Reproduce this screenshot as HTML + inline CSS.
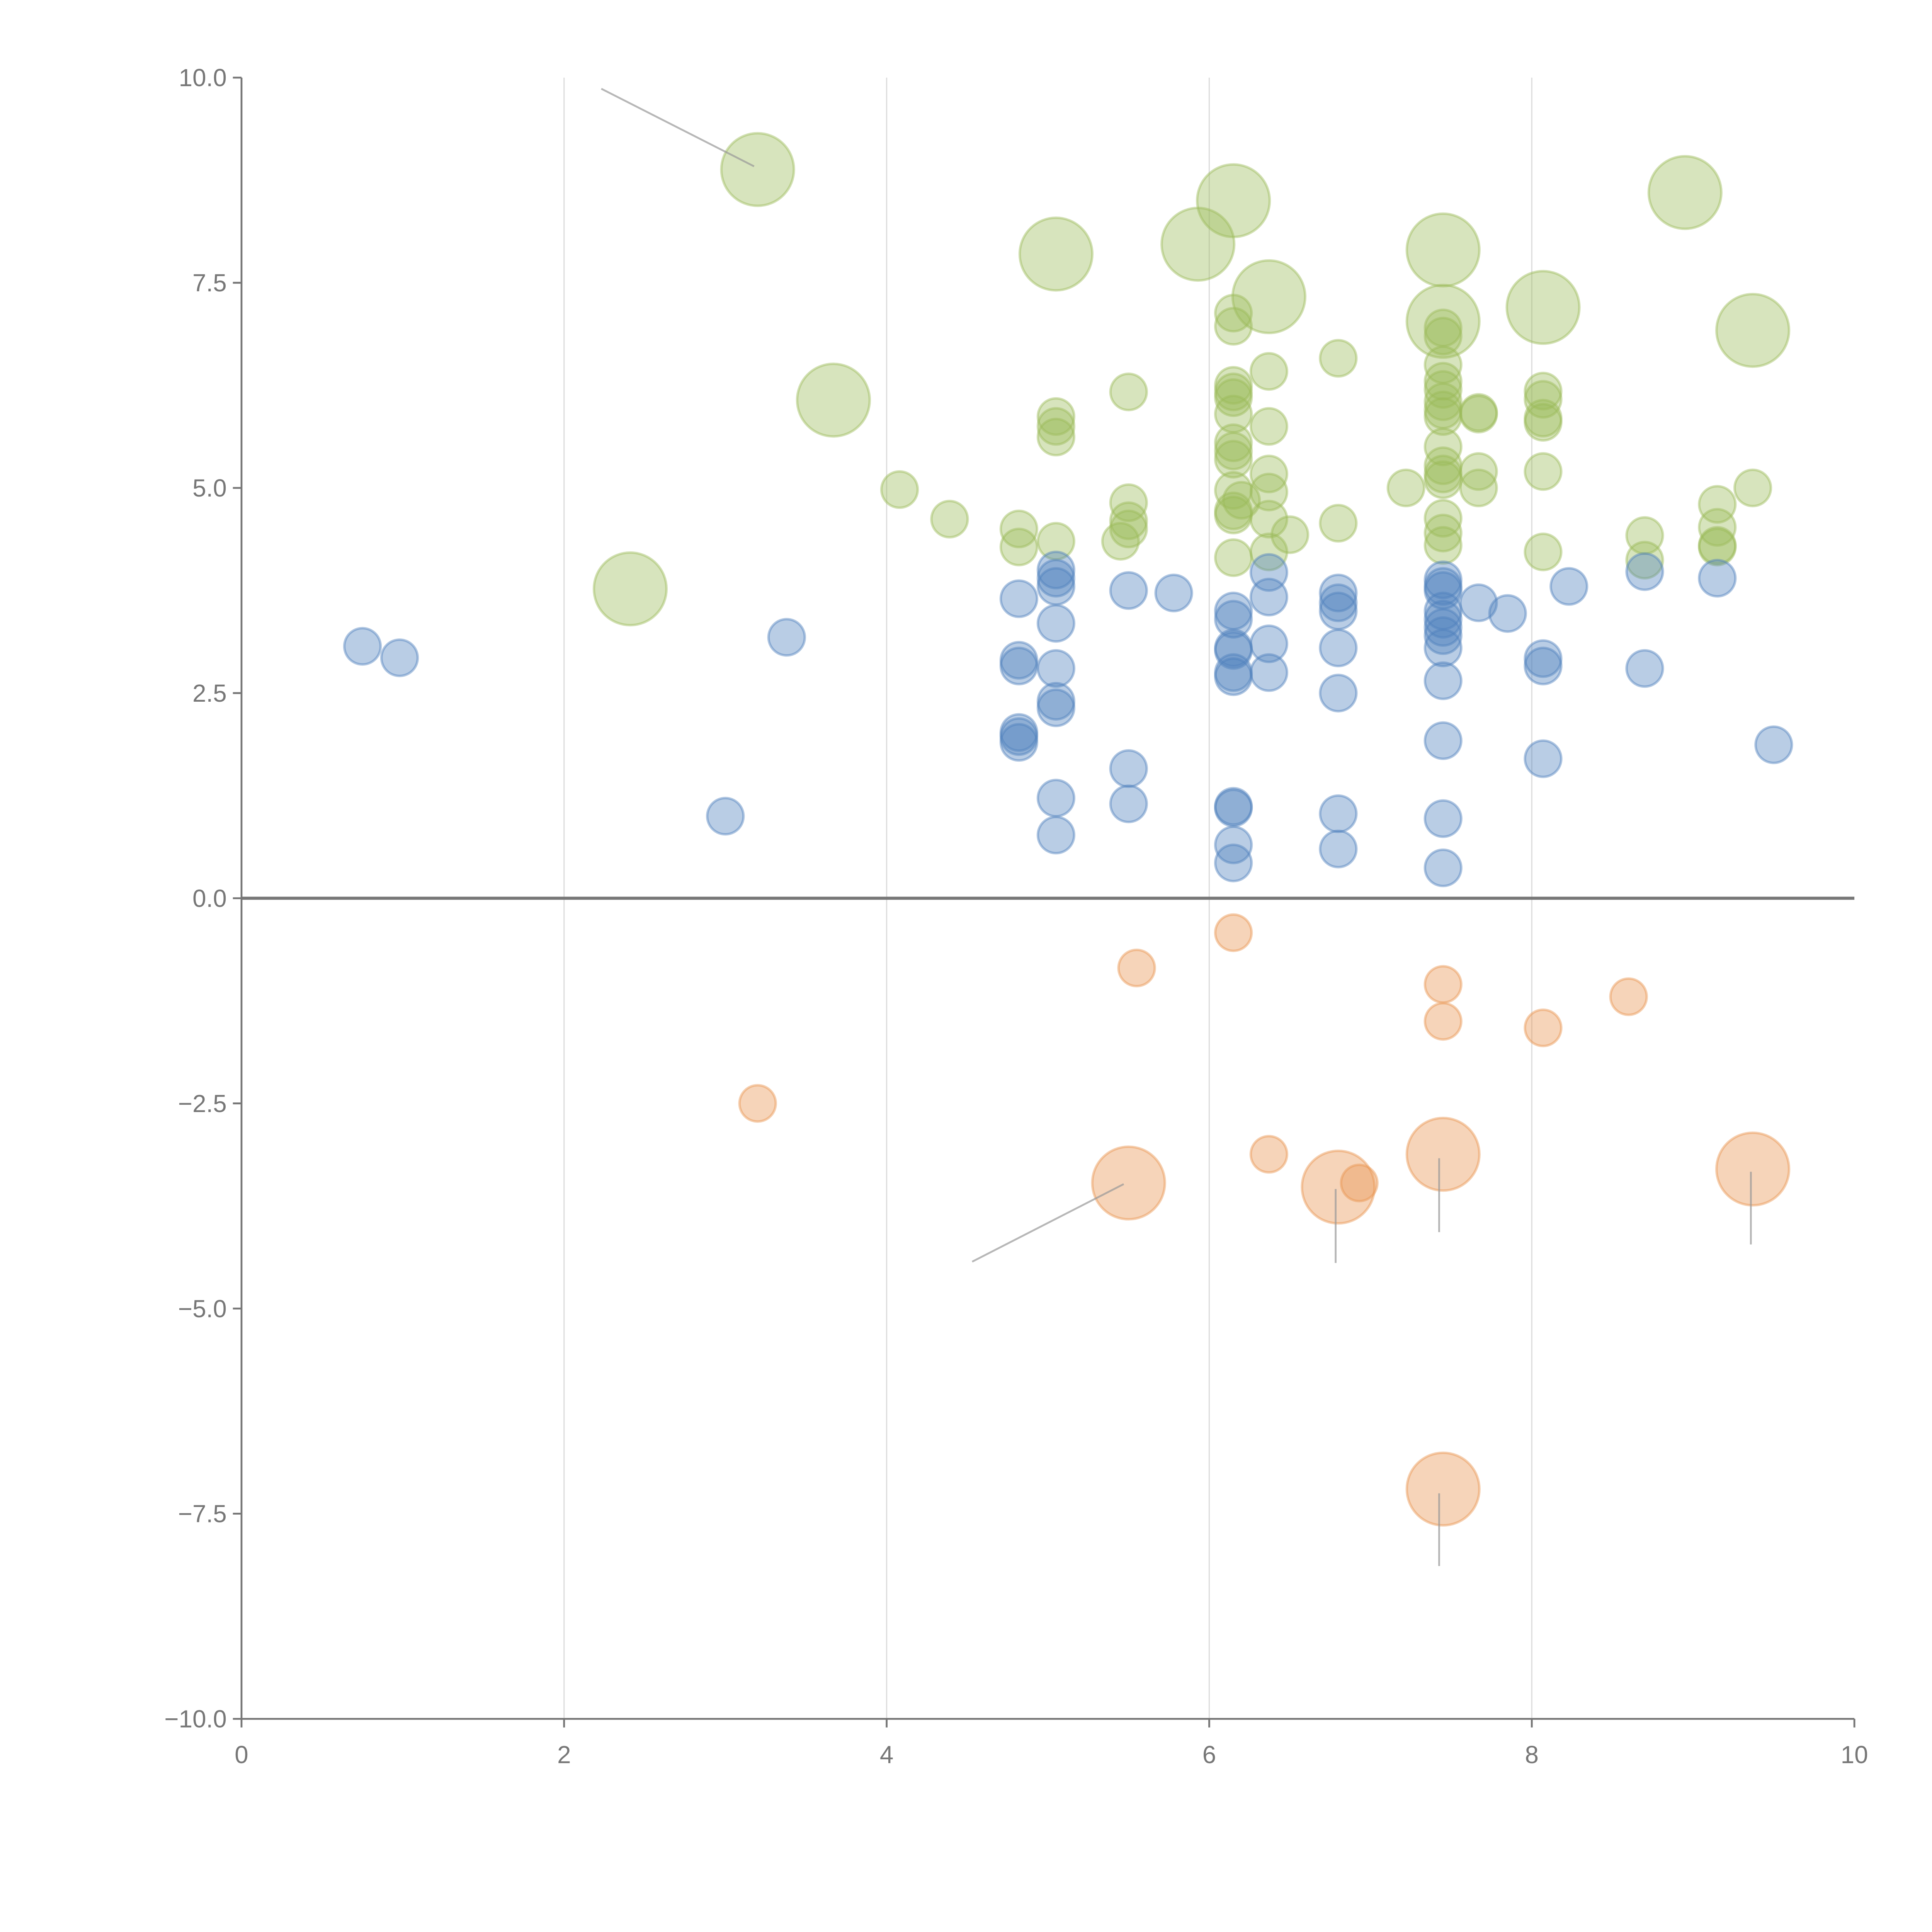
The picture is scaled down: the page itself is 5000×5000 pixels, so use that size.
<!DOCTYPE html>
<html><head><meta charset="utf-8"><style>
html,body{margin:0;padding:0;background:#fff;}
svg{display:block;}
text{font-family:"Liberation Sans",sans-serif;fill:#777;font-size:20px;}
</style></head><body>
<svg id="chart" width="5000" height="5000" viewBox="0 0 1568 1568" xmlns="http://www.w3.org/2000/svg">
<g id="grid"></g>
<g id="marks"></g>
<g id="axes"></g>
</svg>
<script>
const xTicks=[0,2,4,6,8,10];
const yTicks=[10,7.5,5,2.5,0,-2.5,-5,-7.5,-10];
const yTickLabels=["10.0","7.5","5.0","2.5","0.0","\u22122.5","\u22125.0","\u22127.5","\u221210.0"];
const greenX=[3.2,6.15,5.05,5.93,7.45,6.37,7.45,8.07,8.95,9.37,3.67,2.41,
4.08,4.39,4.82,4.82,5.05,5.05,5.05,5.05,5.5,5.5,5.5,5.5,5.45,
6.15,6.15,6.15,6.15,6.15,6.15,6.15,6.15,6.15,6.15,6.15,6.15,6.15,6.2,
6.37,6.37,6.37,6.37,6.37,6.37,6.5,6.8,6.8,7.22,
7.45,7.45,7.45,7.45,7.45,7.45,7.45,7.45,7.45,7.45,7.45,7.45,7.45,7.45,7.45,
7.67,7.67,7.67,7.67,8.07,8.07,8.07,8.07,8.07,8.07,8.7,8.7,9.15,9.15,9.15,9.15,9.37];
const greenY=[8.88,8.5,7.85,7.97,7.9,7.33,7.03,7.2,8.6,6.92,6.07,3.77,
4.98,4.62,4.5,4.28,5.87,5.75,5.62,4.35,6.17,4.82,4.6,4.5,4.35,
7.13,6.97,6.25,6.17,6.1,5.9,5.55,5.45,5.35,4.97,4.72,4.67,4.15,4.85,
6.42,5.75,5.17,4.95,4.62,4.22,4.43,6.58,4.57,5.0,
6.95,6.85,6.5,6.3,6.2,6.05,5.95,5.87,5.5,5.27,5.17,5.1,4.63,4.45,4.3,
5.92,5.9,5.2,5.0,6.18,6.08,5.85,5.8,5.2,4.22,4.42,4.12,4.8,4.52,4.3,4.28,5.0];
const greenSize=[4,4,4,4,4,4,4,4,4,4,4,4];
const blueX=[0.75,0.98,3.0,3.38,4.82,4.82,4.82,4.82,4.82,4.82,
5.05,5.05,5.05,5.05,5.05,5.05,5.05,5.05,5.05,5.5,5.5,5.5,5.78,
6.15,6.15,6.15,6.15,6.15,6.15,6.15,6.15,6.15,6.15,6.37,6.37,6.37,6.37,
6.8,6.8,6.8,6.8,6.8,6.8,6.8,
7.45,7.45,7.45,7.45,7.45,7.45,7.45,7.45,7.45,7.45,7.45,7.45,
7.67,7.85,8.07,8.07,8.07,8.23,8.7,8.7,9.15,9.5];
const blueY=[3.07,2.93,1.0,3.18,3.65,2.9,2.83,2.02,1.97,1.9,
4.0,3.9,3.8,3.35,2.8,2.4,2.32,1.22,0.77,3.75,1.58,1.15,3.72,
3.5,3.4,3.05,3.02,2.75,2.7,1.12,1.1,0.65,0.43,3.97,3.67,3.1,2.75,
3.72,3.6,3.5,3.05,2.5,1.03,0.6,
3.88,3.8,3.75,3.5,3.4,3.3,3.2,3.05,2.65,1.92,0.97,0.37,
3.6,3.47,2.92,2.83,1.7,3.8,3.98,2.8,3.9,1.87];
const orangeX=[5.5,6.8,7.45,9.37,7.45,3.2,5.55,6.15,6.37,6.93,7.45,7.45,8.07,8.6];
const orangeY=[-3.47,-3.52,-3.12,-3.3,-7.2,-2.5,-0.85,-0.42,-3.12,-3.47,-1.05,-1.5,-1.58,-1.2];
const orangeSize=[4,4,4,4,4];

const NS="http://www.w3.org/2000/svg";
const X0=196,X1=1505,Y0=1395,Y1=63;
function sx(v){return X0+(v-0)/(10-0)*(X1-X0);}
function sy(v){return Y0-(v+10)/20*(Y0-Y1);}
function rad(s){return 15.5*Math.sqrt(s||1)*0.95;}
function el(tag,attrs,parent){const e=document.createElementNS(NS,tag);for(const k in attrs)e.setAttribute(k,attrs[k]);parent.appendChild(e);return e;}
const grid=document.getElementById('grid'),marks=document.getElementById('marks'),axes=document.getElementById('axes');

xTicks.forEach(t=>{if(t>0&&t<10){const l=el('line',{x1:sx(t),x2:sx(t),y1:Y1,y2:Y0,stroke:'#ddd','stroke-width':1},grid);

}});

function series(xs,ys,sizes,fill,stroke,name){
  xs.forEach((x,i)=>{
    const c=el('circle',{cx:sx(x),cy:sy(ys[i]),r:rad(sizes[i]),fill:fill,'fill-opacity':0.4,stroke:stroke,'stroke-opacity':0.45,'stroke-width':2},marks);
    
    
  });
}
series(greenX,greenY,greenSize,'#9bbb59','#9bbb59','green-bubble');
series(blueX,blueY,[],'#4f81bd','#4f81bd','blue-bubble');
series(orangeX,orangeY,orangeSize,'#e8944f','#e8944f','orange-bubble');

const leaders=[[488,72,612,135],[789,1024,912,961],[1084,965,1084,1025],[1168,940,1168,1000],[1421,951,1421,1010],[1168,1212,1168,1271]];
leaders.forEach(p=>{const l=el('line',{x1:p[0],y1:p[1],x2:p[2],y2:p[3],stroke:'#999','stroke-opacity':0.7,'stroke-width':1.5},marks);

});

const z=el('line',{x1:X0,x2:X1,y1:sy(0),y2:sy(0),stroke:'#777','stroke-width':2.5},axes);


const ya=el('line',{x1:X0,x2:X0,y1:Y1,y2:Y0,stroke:'#777','stroke-width':1.5},axes);


const xa=el('line',{x1:X0,x2:X1,y1:Y0,y2:Y0,stroke:'#777','stroke-width':1.5},axes);


yTicks.forEach((t,i)=>{
  el('line',{x1:X0-7,x2:X0,y1:sy(t),y2:sy(t),stroke:'#777','stroke-width':1.5},axes);
  const tx=el('text',{x:X0-12,y:sy(t)+7,'text-anchor':'end'},axes);
  tx.textContent=yTickLabels[i];
  
  
});
xTicks.forEach(t=>{
  el('line',{x1:sx(t),x2:sx(t),y1:Y0,y2:Y0+7,stroke:'#777','stroke-width':1.5},axes);
  const tx=el('text',{x:sx(t),y:Y0+36,'text-anchor':'middle'},axes);
  tx.textContent=String(t);
  
  
});
</script>
</body></html>
